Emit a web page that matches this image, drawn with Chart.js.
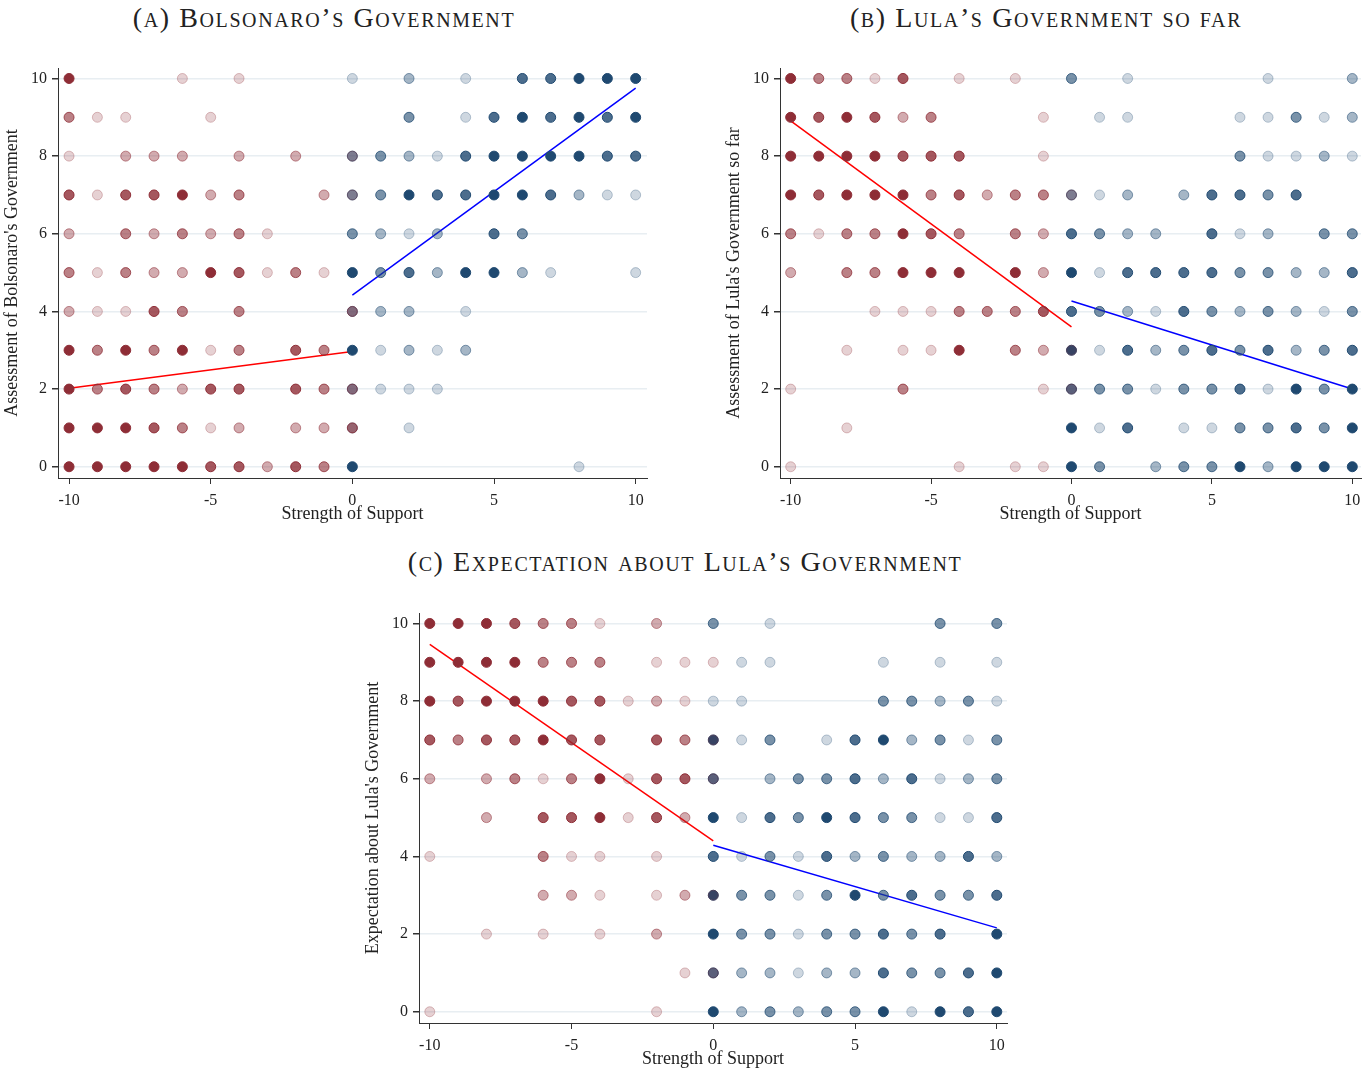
<!DOCTYPE html>
<html>
<head>
<meta charset="utf-8">
<script src="https://cdn.jsdelivr.net/npm/chart.js@4.4.1/dist/chart.umd.min.js"></script>
<style>
  body { margin: 0; background: #fff; width: 1367px; height: 1068px; position: relative; overflow: hidden; }
  .panel { position: absolute; }
  .title {
    position: absolute; width: 800px; text-align: center;
    font-family: 'Liberation Serif', serif; font-variant: small-caps;
    font-size: 28px; letter-spacing: 1.6px; line-height: 30px; color: #222;
  }
</style>
</head>
<body>
<div class="title" style="left:-76px; top:3px;">(a) Bolsonaro’s Government</div>
<div class="title" style="left:646px; top:3px;">(b) Lula’s Government so far</div>
<div class="title" style="left:285px; top:547px;">(c) Expectation about Lula’s Government</div>

<div class="panel" style="left:0px; top:0px;"><canvas id="chartA" width="660" height="530"></canvas></div>
<div class="panel" style="left:722px; top:0px;"><canvas id="chartB" width="645" height="530"></canvas></div>
<div class="panel" style="left:361px; top:545px;"><canvas id="chartC" width="660" height="530"></canvas></div>

<script>
// rows go from y = 10 down to y = 0
const yLevels = [10, 9, 8, 7, 6, 5, 4, 3, 2, 1, 0];
// columns of the opponent grids (x = -10..0) and supporter grids (x = 0..10)
const redX = [-10, -9, -8, -7, -6, -5, -4, -3, -2, -1, 0];
const blueX = [0, 1, 2, 3, 4, 5, 6, 7, 8, 9, 10];
const xTicks = [-10, -5, 0, 5, 10];
const yTicks = [0, 2, 4, 6, 8, 10];

// marker density 0 (none) .. 5 (full colour)
const bolsonaroRed = [
  [5,0,0,0,1,0,1,0,0,0,0],
  [3,1,1,0,0,1,0,0,0,0,0],
  [1,0,2,2,2,0,2,0,2,0,1],
  [4,1,4,4,5,2,3,0,0,2,1],
  [2,0,3,2,3,2,3,1,0,0,0],
  [3,1,3,2,2,5,4,1,3,1,0],
  [2,1,1,4,3,0,3,0,0,0,2],
  [5,3,5,3,5,1,3,0,4,3,0],
  [5,3,4,3,2,4,4,0,4,3,2],
  [5,5,5,4,3,1,2,0,2,2,3],
  [5,5,5,5,5,4,4,2,4,3,0]
];
const bolsonaroBlue = [
  [1,0,2,0,1,0,4,4,5,5,5],
  [0,0,3,0,1,4,5,4,5,4,5],
  [3,3,2,1,4,5,5,5,5,4,4],
  [3,3,5,4,4,5,5,4,2,1,1],
  [3,2,1,2,0,4,3,0,0,0,0],
  [5,3,4,2,5,5,2,1,0,0,1],
  [3,2,2,0,1,0,0,0,0,0,0],
  [5,1,2,1,2,0,0,0,0,0,0],
  [3,1,1,1,0,0,0,0,0,0,0],
  [2,0,1,0,0,0,0,0,0,0,0],
  [5,0,0,0,0,0,0,0,1,0,0]
];
const bolsonaroRedFit = [2.02, 2.97];
const bolsonaroBlueFit = [4.42, 9.75];

const lulaRed = [
  [5,3,3,1,4,0,1,0,1,0,0],
  [5,4,5,4,2,3,0,0,0,1,0],
  [5,5,5,5,4,4,4,0,0,1,0],
  [5,4,5,5,5,3,4,2,3,3,1],
  [3,1,3,3,5,4,3,0,3,2,0],
  [2,0,3,3,5,5,5,0,5,2,0],
  [0,0,0,1,1,1,3,3,3,4,0],
  [0,0,1,0,1,1,5,0,3,2,1],
  [1,0,0,0,3,0,0,0,0,1,1],
  [0,0,1,0,0,0,0,0,0,0,0],
  [1,0,0,0,0,0,1,0,1,1,0]
];
const lulaBlue = [
  [3,0,1,0,0,0,0,1,0,0,2],
  [0,1,1,0,0,0,1,1,3,1,2],
  [0,0,0,0,0,0,3,1,1,2,1],
  [3,1,2,0,2,4,4,3,4,0,0],
  [4,3,2,2,0,4,1,2,0,3,3],
  [5,1,4,4,4,4,3,3,2,2,4],
  [4,3,2,1,4,3,2,3,2,1,3],
  [5,1,4,2,3,4,3,4,2,3,4],
  [4,3,3,1,3,3,4,1,5,3,5],
  [5,1,4,0,1,1,3,3,4,3,5],
  [5,3,0,2,3,3,5,2,5,5,5]
];
const lulaRedFit = [8.91, 3.60];
const lulaBlueFit = [4.27, 2.00];

const expectRed = [
  [5,5,5,4,3,3,1,0,2,0,0],
  [5,5,5,5,3,3,3,0,1,1,1],
  [5,4,5,5,5,4,4,1,2,1,0],
  [4,3,4,4,5,4,4,0,4,3,1],
  [2,0,2,3,1,3,5,1,4,4,1],
  [0,0,2,0,4,4,5,1,4,2,0],
  [1,0,0,0,3,1,1,0,1,0,0],
  [0,0,0,0,2,2,1,0,1,2,1],
  [0,0,1,0,1,0,1,0,2,0,0],
  [0,0,0,0,0,0,0,0,0,1,1],
  [1,0,0,0,0,0,0,0,1,0,0]
];
const expectBlue = [
  [3,0,1,0,0,0,0,0,3,0,3],
  [0,1,1,0,0,0,1,0,1,0,1],
  [1,1,0,0,0,0,3,3,2,3,1],
  [5,1,3,0,1,4,5,2,3,1,3],
  [4,0,2,3,3,4,2,4,1,2,3],
  [5,1,4,3,5,4,3,3,1,1,4],
  [4,1,3,1,4,2,3,2,2,4,2],
  [5,3,3,1,3,5,3,4,3,3,4],
  [5,3,3,1,3,3,4,3,4,0,5],
  [4,2,2,1,2,2,4,3,3,4,5],
  [5,2,3,2,3,3,5,1,5,4,5]
];
const expectRedFit = [9.46, 4.40];
const expectBlueFit = [4.29, 2.16];

const alphas = [0, 0.22, 0.4, 0.6, 0.8, 1];
const serif = "'Liberation Serif', serif";

function gridPoints(grid, xs, rgb) {
  const pts = [], fill = [], edge = [];
  grid.forEach((row, i) => {
    row.forEach((lvl, j) => {
      if (!lvl) return;
      pts.push({ x: xs[j], y: yLevels[i] });
      const a = alphas[lvl];
      fill.push('rgba(' + rgb + ',' + a + ')');
      edge.push('rgba(' + rgb + ',' + Math.min(1, a * 1.3) + ')');
    });
  });
  return { pts, fill, edge };
}

function makePanel(id, redGrid, blueGrid, redFit, blueFit, yTitle, xMin, xMax, padRight) {
  const r = gridPoints(redGrid, redX, '142,45,54');
  const b = gridPoints(blueGrid, blueX, '31,73,112');
  const dots = (p) => ({
    type: 'scatter', data: p.pts, backgroundColor: p.fill, borderColor: p.edge,
    borderWidth: 1, pointRadius: 5
  });
  const fit = (xs, ys, col) => ({
    type: 'line', data: [{ x: xs[0], y: ys[0] }, { x: xs[xs.length - 1], y: ys[1] }],
    borderColor: col, borderWidth: 1.5, pointRadius: 0, fill: false
  });
  return new Chart(document.getElementById(id), {
    type: 'scatter',
    data: {
      datasets: [dots(r), dots(b), fit(redX, redFit, '#ff0000'), fit(blueX, blueFit, '#0000ff')]
    },
    options: {
      responsive: false,
      animation: false,
      events: [],
      layout: { padding: { top: 68, right: padRight, left: 0, bottom: 0 } },
      plugins: { legend: { display: false }, tooltip: { enabled: false } },
      scales: {
        x: {
          type: 'linear', min: xMin, max: xMax,
          afterBuildTicks: ax => { ax.ticks = xTicks.map(v => ({ value: v })); },
          afterFit: ax => { ax.height = 52; ax.paddingLeft = 0; ax.paddingRight = 0; },
          grid: { drawOnChartArea: false, tickLength: 6, tickColor: '#333' },
          border: { color: '#333', width: 1 },
          ticks: { font: { family: serif, size: 16 }, color: '#222', padding: 7, maxRotation: 0 },
          title: { display: true, text: 'Strength of Support', font: { family: serif, size: 18 }, color: '#222', padding: { top: 0, bottom: 5 } }
        },
        y: {
          type: 'linear', min: -0.29, max: 10.27,
          afterBuildTicks: ax => { ax.ticks = yTicks.map(v => ({ value: v })); },
          afterFit: ax => { ax.width = 58; },
          grid: { color: '#e8eef2', lineWidth: 1.5, tickLength: 6, tickColor: '#333' },
          border: { color: '#333', width: 1 },
          ticks: { font: { family: serif, size: 16 }, color: '#222', padding: 5 },
          title: { display: true, text: yTitle, font: { family: serif, size: 18 }, color: '#222', padding: { top: 1, bottom: 0 } }
        }
      }
    }
  });
}

const chartA = makePanel('chartA', bolsonaroRed, bolsonaroBlue, bolsonaroRedFit, bolsonaroBlueFit,
  "Assessment of Bolsonaro's Government", -10.39, 10.4, 13);
const chartB = makePanel('chartB', lulaRed, lulaBlue, lulaRedFit, lulaBlueFit,
  "Assessment of Lula's Government so far", -10.38, 10.31, 1);
const chartC = makePanel('chartC', expectRed, expectBlue, expectRedFit, expectBlueFit,
  "Expectation about Lula's Government", -10.38, 10.36, 14);
</script>
</body>
</html>
